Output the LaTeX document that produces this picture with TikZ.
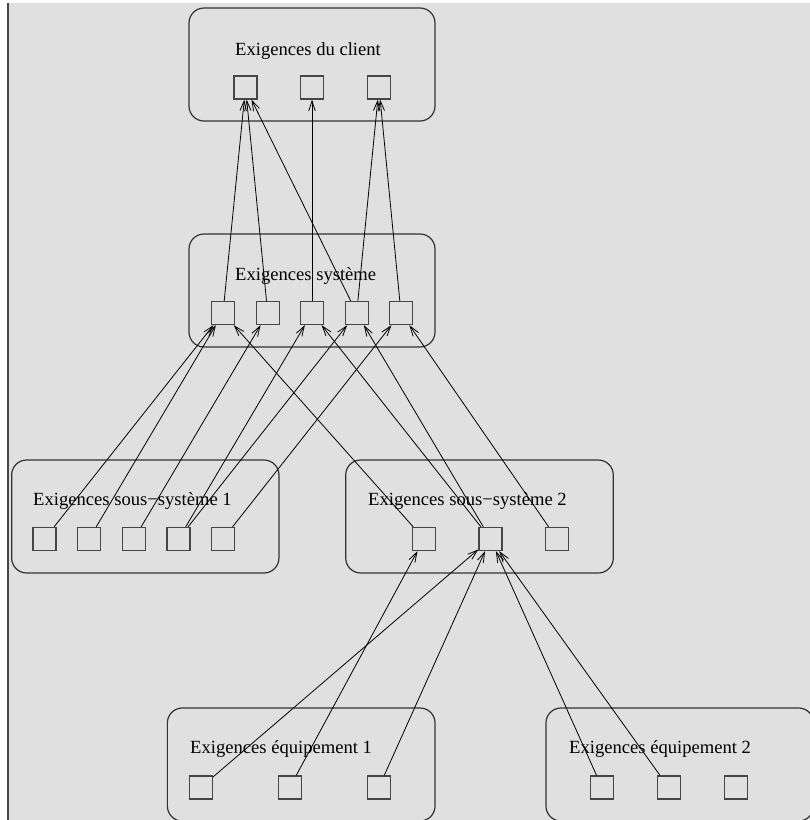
\documentclass[tikz,border=0pt]{standalone}
\usepackage{fontspec}
\setmainfont{Liberation Serif}
\usetikzlibrary{arrows.meta}
\definecolor{bggray}{RGB}{224,224,224}
\definecolor{edgegray}{RGB}{50,50,50}
\definecolor{sqgray}{RGB}{70,70,70}
\begin{document}
\begin{tikzpicture}[x=1pt,y=-1pt,
  groupbox/.style={draw=edgegray,line width=1.2pt,rounded corners=15pt,inner sep=0pt,minimum height=113pt},
  reqbox/.style={draw=sqgray,line width=1.3pt,inner sep=0pt,minimum width=23pt,minimum height=23pt},
  title/.style={anchor=base west,inner sep=0pt,font=\fontsize{18.6}{22}\selectfont},
  link/.style={line width=0.8pt,-{Straight Barb[length=10pt,width=6.5pt]}}]
\useasboundingbox (0,0) rectangle (810,820);
\clip (0,0) rectangle (810,820);
\fill[bggray] (9,3) rectangle (810,820);
\draw[line width=2pt,color=sqgray] (8,3) -- (8,820);
% group boxes
\node[groupbox,minimum width=246pt] (gC) at (312,64.5) {};
\node[groupbox,minimum width=246pt] (gS) at (312,290.5) {};
\node[groupbox,minimum width=267.3pt] (gA) at (145.3,516.5) {};
\node[groupbox,minimum width=267.6pt] (gB) at (479.5,516.5) {};
\node[groupbox,minimum width=267.7pt] (gE) at (301.2,764.5) {};
\node[groupbox,minimum width=267.7pt] (gF) at (679.8,764.5) {};
% titles
\node[title] (tC) at (235,55) {Exigences du client};
\node[title] (tS) at (235,280) {Exigences système};
\node[title] (tA) at (33,505) {Exigences sous−système 1};
\node[title] (tB) at (368,505) {Exigences sous−système 2};
\node[title] (tE) at (190,753) {Exigences équipement 1};
\node[title] (tF) at (569,753) {Exigences équipement 2};
% requirement squares
\node[reqbox] (c1) at (245.5,87.5) {};
\node[reqbox] (c2) at (312,87.5) {};
\node[reqbox] (c3) at (379,87.5) {};
\node[reqbox] (s1) at (223,313) {};
\node[reqbox] (s2) at (267.7,313) {};
\node[reqbox] (s3) at (312,313) {};
\node[reqbox] (s4) at (356.7,313) {};
\node[reqbox] (s5) at (401,313) {};
\node[reqbox] (a1) at (44.5,539) {};
\node[reqbox] (a2) at (89,539) {};
\node[reqbox] (a3) at (134,539) {};
\node[reqbox] (a4) at (178.5,539) {};
\node[reqbox] (a5) at (223,539) {};
\node[reqbox] (b1) at (424,539) {};
\node[reqbox] (b2) at (490.5,539) {};
\node[reqbox] (b3) at (557,539) {};
\node[reqbox] (e1) at (200.7,787.5) {};
\node[reqbox] (e2) at (289.7,787.5) {};
\node[reqbox] (e3) at (378.8,787.5) {};
\node[reqbox] (f1) at (602,787.5) {};
\node[reqbox] (f2) at (668.7,787.5) {};
\node[reqbox] (f3) at (735.7,787.5) {};
% links
\draw[link] (s1) -- (c1);
\draw[link] (s2) -- (c1);
\draw[link] (s4) -- (c1);
\draw[link] (s3) -- (c2);
\draw[link] (s4) -- (c3);
\draw[link] (s5) -- (c3);
\draw[link] (a1) -- (s1);
\draw[link] (a2) -- (s1);
\draw[link] (a3) -- (s2);
\draw[link] (a4) -- (s3);
\draw[link] (a4) -- (s4);
\draw[link] (a5) -- (s5);
\draw[link] (b1) -- (s1);
\draw[link] (b2) -- (s3);
\draw[link] (b2) -- (s4);
\draw[link] (b3) -- (s5);
\draw[link] (e1) -- (b2);
\draw[link] (e2) -- (b1);
\draw[link] (e3) -- (b2);
\draw[link] (f1) -- (b2);
\draw[link] (f2) -- (b2);
\end{tikzpicture}
\end{document}
